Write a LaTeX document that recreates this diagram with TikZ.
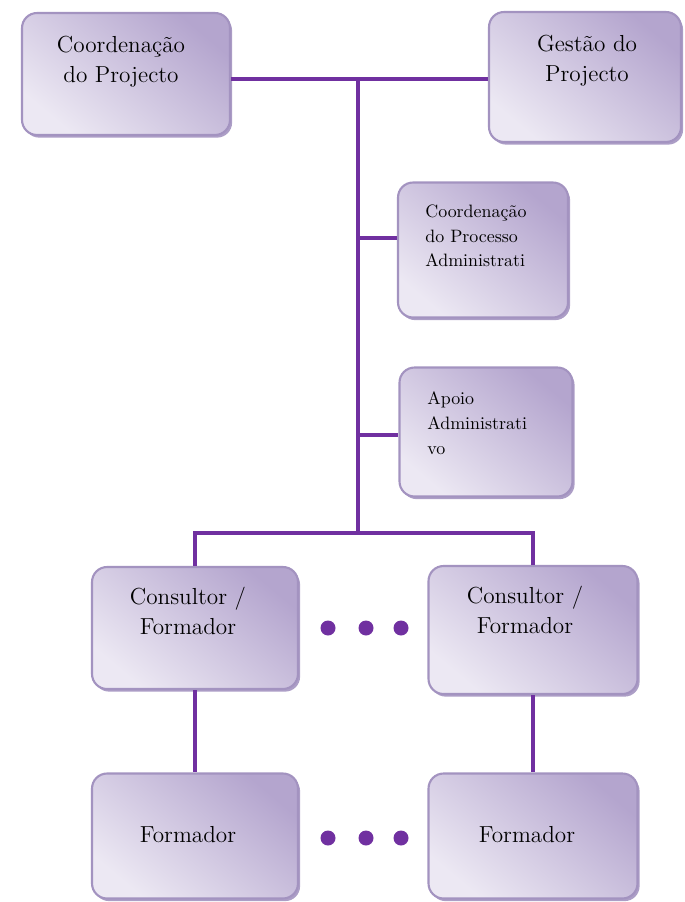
\documentclass[tikz,border=0pt]{standalone}
\usepackage{fontspec}
\usepackage{tikz}
\usetikzlibrary{shadows}

\definecolor{linepurple}{HTML}{7030A0}
\definecolor{boxdark}{HTML}{B4A5CE}
\definecolor{boxlight}{HTML}{ECE8F3}
\definecolor{boxedge}{HTML}{A393C0}

\begin{document}
\begin{tikzpicture}[x=0.02cm, y=-0.02cm,
  box/.style={rectangle, rounded corners=0.3cm, draw=boxedge, line width=1.2pt,
    drop shadow={shadow xshift=1.2pt, shadow yshift=-1.5pt, fill=boxedge, opacity=0.9},
    top color=boxdark, bottom color=boxlight, shading angle=-40, inner sep=0pt},
  big/.style={font=\fontsize{13.2}{17}\selectfont, align=center, inner sep=0pt},
  small/.style={font=\fontsize{10.2}{13.8}\selectfont, align=left, inner sep=0pt},
  link/.style={color=linepurple, line width=2.8pt},
  dot/.style={circle, fill=linepurple, minimum size=0.3cm, inner sep=0pt}]

\useasboundingbox (0,0) rectangle (684,902);

\node[box, minimum width=4.16cm, minimum height=2.44cm] (cp) at (126,74) {};
\node[box, minimum width=3.84cm, minimum height=2.6cm] (gp) at (585,77) {};
\node[box, minimum width=3.4cm, minimum height=2.7cm] (cpa) at (483,250) {};
\node[box, minimum width=3.46cm, minimum height=2.58cm] (apoio) at (486,432) {};
\node[box, minimum width=4.12cm, minimum height=2.44cm] (cf1) at (195,628) {};
\node[box, minimum width=4.18cm, minimum height=2.56cm] (cf2) at (533,630) {};
\node[box, minimum width=4.12cm, minimum height=2.5cm] (f1) at (195,836) {};
\node[box, minimum width=4.18cm, minimum height=2.5cm] (f2) at (533,836) {};

\node[big, anchor=north] (cp-t) at (121,36) {Coordenação\\do Projecto};
\node[big, anchor=north] (gp-t) at (587,35) {Gestão do\\Projecto};
\node[small, anchor=north west] (cpa-t) at (425,205) {Coordenação\\do Processo\\Administrati};
\node[small, anchor=north west, font=\fontsize{10.2}{14.2}\selectfont] (apoio-t) at (427,391) {Apoio\\Administrati\\vo};
\node[big, anchor=north] (cf1-t) at (188,587) {Consultor /\\Formador};
\node[big, anchor=north] (cf2-t) at (525,586) {Consultor /\\Formador};
\node[big, anchor=base] (f1-t) at (188,842) {Formador};
\node[big, anchor=base] (f2-t) at (527,842) {Formador};

\coordinate (top) at (358,79);
\coordinate (j1) at (358,238);
\coordinate (j2) at (358,435);
\coordinate (bot) at (358,533);

\draw[link] (cp.east |- top) -- (gp.west |- top);
\draw[link] (top) -- (bot);
\draw[link] (j1) -- (cpa.west |- j1);
\draw[link] (j2) -- (apoio.west |- j2);
\draw[link] (cf1.north) |- (bot) -| (cf2.north);
\draw[link] (cf1.south) -- (f1.north);
\draw[link] (cf2.south) -- (f2.north);

\node[dot] (d1) at (328,628) {};
\node[dot] (d2) at (366,628) {};
\node[dot] (d3) at (401,628) {};
\node[dot] (d4) at (328,838) {};
\node[dot] (d5) at (366,838) {};
\node[dot] (d6) at (401,838) {};
\end{tikzpicture}
\end{document}
